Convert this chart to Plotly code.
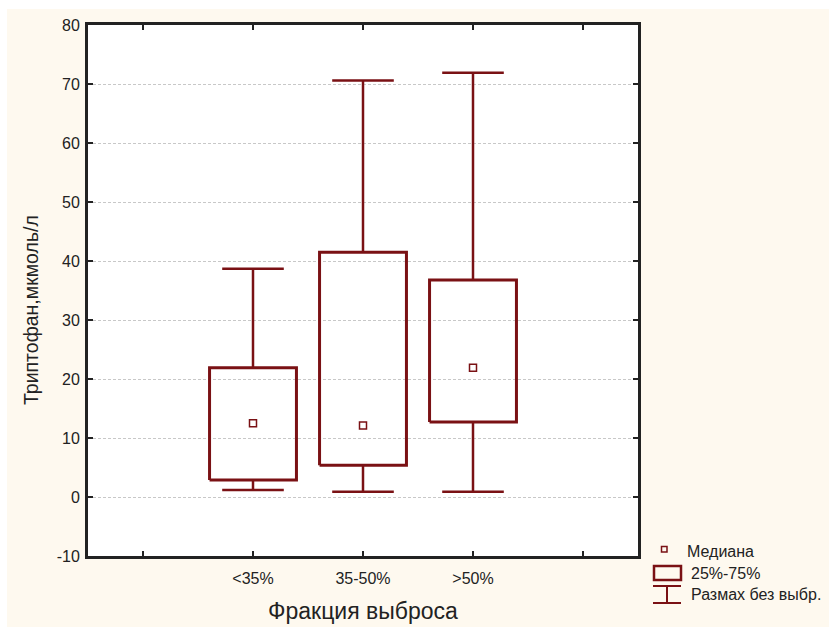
import plotly.graph_objects as go

# Tryptophan by ejection fraction group
categories = ["<35%", "35-50%", ">50%"]
positions = [2, 3, 4]
whisker_low = [1.2, 0.9, 0.9]
q1 = [2.9, 5.4, 12.7]
median = [12.5, 12.1, 21.9]
q3 = [21.9, 41.5, 36.8]
whisker_high = [38.7, 70.6, 71.9]

tick_positions = [1, 2, 3, 4, 5]
tick_labels = ["", "<35%", "35-50%", ">50%", ""]
y_ticks = [-10, 0, 10, 20, 30, 40, 50, 60, 70, 80]
y_tick_labels = ["-10", "0", "10", "20", "30", "40", "50", "60", "70", "80"]

DARK_RED = "#7a1114"
AXIS = "#222222"
CREAM = "#fef9ef"
FONT = "Liberation Sans, Arial, sans-serif"

BOX_HALF = 0.395
CAP_HALF = 0.28

fig = go.Figure()

for x, lo, a, m, b, hi in zip(positions, whisker_low, q1, median, q3, whisker_high):
    # whiskers with caps
    fig.add_trace(go.Scatter(
        x=[x, x, None, x, x, None,
           x - CAP_HALF, x + CAP_HALF, None, x - CAP_HALF, x + CAP_HALF],
        y=[lo, a, None, b, hi, None, lo, lo, None, hi, hi],
        mode="lines", line=dict(color=DARK_RED, width=2.5),
        hoverinfo="skip", showlegend=False))
    # interquartile box
    fig.add_trace(go.Scatter(
        x=[x - BOX_HALF, x + BOX_HALF, x + BOX_HALF, x - BOX_HALF, x - BOX_HALF],
        y=[a, a, b, b, a],
        mode="lines", line=dict(color=DARK_RED, width=3),
        hoverinfo="skip", showlegend=False))

# medians
fig.add_trace(go.Scatter(
    x=positions, y=median, mode="markers",
    marker=dict(symbol="square-open", size=7, color=DARK_RED, line=dict(width=1.5)),
    showlegend=False))

# plot area in pixels
L, R, T, B = 88, 638, 25, 556
W, H = 829, 627


def px(xp):
    return (xp - L) / (R - L)


def py(yp):
    return (B - yp) / (B - T)


shapes = [
    # white strip on the top and left, cream canvas elsewhere
    dict(type="rect", xref="paper", yref="paper", layer="below",
         x0=px(7), x1=px(W + 5), y0=py(H + 5), y1=py(9),
         fillcolor=CREAM, line=dict(width=0)),
    dict(type="rect", xref="paper", yref="paper", layer="below",
         x0=0, x1=1, y0=0, y1=1, fillcolor="white", line=dict(width=0)),
    # legend: box symbol
    dict(type="rect", xref="paper", yref="paper",
         x0=px(654), x1=px(681), y0=py(580), y1=py(566),
         line=dict(color=DARK_RED, width=2.5)),
    # legend: range symbol
    dict(type="line", xref="paper", yref="paper",
         x0=px(653), x1=px(681), y0=py(586), y1=py(586),
         line=dict(color=DARK_RED, width=2)),
    dict(type="line", xref="paper", yref="paper",
         x0=px(653), x1=px(681), y0=py(603), y1=py(603),
         line=dict(color=DARK_RED, width=2)),
    dict(type="line", xref="paper", yref="paper",
         x0=px(667), x1=px(667), y0=py(586), y1=py(603),
         line=dict(color=DARK_RED, width=2)),
    # legend: median symbol
    dict(type="rect", xref="paper", yref="paper",
         x0=px(661.5), x1=px(667), y0=py(552), y1=py(546.5),
         line=dict(color=DARK_RED, width=1.5)),
]

annotations = [
    dict(text="Медиана", x=px(685), y=py(551), xref="paper", yref="paper",
         xanchor="left", yanchor="middle", showarrow=False,
         font=dict(family=FONT, size=16, color=AXIS)),
    dict(text="25%-75%", x=px(689), y=py(573), xref="paper", yref="paper",
         xanchor="left", yanchor="middle", showarrow=False,
         font=dict(family=FONT, size=16, color=AXIS)),
    dict(text="Размах без выбр.", x=px(689), y=py(594), xref="paper", yref="paper",
         xanchor="left", yanchor="middle", showarrow=False,
         font=dict(family=FONT, size=16, color=AXIS)),
    dict(text="Фракция выброса", x=px(363), y=py(611), xref="paper", yref="paper",
         xanchor="center", yanchor="middle", showarrow=False,
         font=dict(family=FONT, size=23, color=AXIS)),
    dict(text="Триптофан,мкмоль/л", x=px(31), y=py(310), xref="paper", yref="paper",
         xanchor="center", yanchor="middle", showarrow=False, textangle=-90,
         font=dict(family=FONT, size=19.5, color=AXIS)),
]

fig.update_layout(
    width=W, height=H,
    margin=dict(l=L, r=W - R, t=T, b=H - B),
    paper_bgcolor="white",
    plot_bgcolor="white",
    font=dict(family=FONT, size=16, color=AXIS),
    shapes=shapes,
    annotations=annotations,
    showlegend=False,
    xaxis=dict(
        range=[0.5, 5.5], tickmode="array", tickvals=tick_positions,
        ticktext=tick_labels, ticks="inside", ticklen=5, tickwidth=2,
        tickcolor=AXIS, showline=True, linecolor=AXIS, linewidth=3,
        mirror="ticks", showgrid=False, zeroline=False,
        tickfont=dict(size=16), ticklabelstandoff=6,
    ),
    yaxis=dict(
        range=[-10, 80], tickmode="array", tickvals=y_ticks,
        ticktext=y_tick_labels,
        ticks="inside", ticklen=5, tickwidth=2, tickcolor=AXIS,
        showline=True, linecolor=AXIS, linewidth=3, mirror="ticks",
        showgrid=True, gridcolor="#c8c8c8", griddash="3px,2px", gridwidth=1,
        zeroline=False, tickfont=dict(size=16), ticklabelstandoff=2,
    ),
)

fig.write_html("out.html")
